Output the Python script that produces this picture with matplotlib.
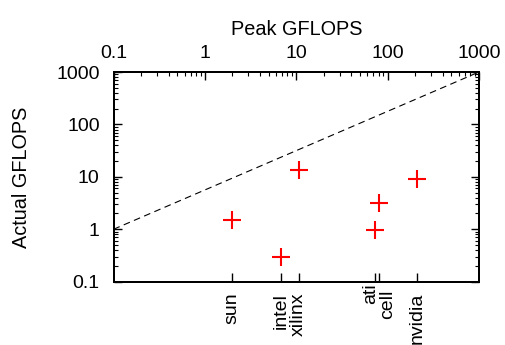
import matplotlib
matplotlib.use("Agg")
import matplotlib.pyplot as plt
import matplotlib.transforms as mtransforms
from matplotlib.ticker import FixedLocator, NullLocator, LogLocator, NullFormatter

plt.rcParams["font.family"] = ["Liberation Sans", "DejaVu Sans"]
plt.rcParams["font.size"] = 14

# data (peak vs actual GFLOPS)
names = ["sun", "intel", "xilinx", "ati", "cell", "nvidia"]
peak = [2.0, 6.8, 10.6, 73, 81, 209]
actual = [1.5, 0.3, 13.5, 0.97, 3.2, 9.1]

# reference dashed line endpoints
ref_x = [0.1, 1000]
ref_y = [1, 1000]

decades = [0.1, 1, 10, 100, 1000]
decade_labels = ["0.1", "1", "10", "100", "1000"]

# label nudges (points) so the close ati/cell names don't sit on each other
label_dx = [0, 0, 0, -3.5, 6.3, 0]
label_dy = [0, 0, 0, 7.2, 2.2, 0]

fig = plt.figure(figsize=(5.05, 3.45), dpi=100)
ax = fig.add_axes([0.2248, 0.1835, 0.7237, 0.6078])

ax.plot(ref_x, ref_y, color="black", lw=0.8, ls=(0, (6, 4)))
ax.plot(peak, actual, ls="none", marker="+", color="red", ms=13, mew=1.5)

ax.set_xscale("log")
ax.set_yscale("log")
ax.set_xlim(0.1, 1000)
ax.set_ylim(0.1, 1000)

for s in ax.spines.values():
    s.set_linewidth(1.4)

# bottom: category ticks, mirrored on top without labels
ax.xaxis.set_major_locator(FixedLocator(peak))
ax.xaxis.set_minor_locator(NullLocator())
ax.set_xticklabels([])
ax.tick_params(axis="x", which="major", direction="in", top=True, bottom=True,
               length=6.5, width=1.0)
for x, name, dx, dy in zip(peak, names, label_dx, label_dy):
    off = mtransforms.ScaledTranslation(dx / 72, (dy - 8) / 72, fig.dpi_scale_trans)
    ax.text(x, 0, name, rotation=90, ha="center", va="top",
            transform=ax.get_xaxis_transform() + off)

# y axis decades
ax.yaxis.set_major_locator(FixedLocator(decades))
ax.set_yticklabels(decade_labels)
ax.yaxis.set_minor_locator(LogLocator(base=10, subs=range(2, 10)))
ax.yaxis.set_minor_formatter(NullFormatter())
ax.tick_params(axis="y", which="major", direction="in", left=True, right=True,
               length=5.8, width=1.0, pad=10)
ax.tick_params(axis="y", which="minor", direction="in", left=True, right=True,
               length=2.9, width=0.8)
ax.set_ylabel("Actual GFLOPS", labelpad=18, fontsize=14.3)

# top axis with decade labels
top = ax.twiny()
top.set_xscale("log")
top.set_xlim(0.1, 1000)
top.xaxis.set_major_locator(FixedLocator(decades))
top.set_xticklabels(decade_labels)
top.xaxis.set_minor_locator(LogLocator(base=10, subs=range(2, 10)))
top.xaxis.set_minor_formatter(NullFormatter())
top.tick_params(axis="x", which="major", direction="in", top=True, bottom=False,
                length=5.8, width=1.0, pad=7)
top.tick_params(axis="x", which="minor", direction="in", top=True, bottom=False,
                length=2.9, width=0.8)
top.set_xlabel("Peak GFLOPS", labelpad=7.5, fontsize=14.3)
for s in top.spines.values():
    s.set_linewidth(1.4)

fig.savefig("out.png", dpi=100)
